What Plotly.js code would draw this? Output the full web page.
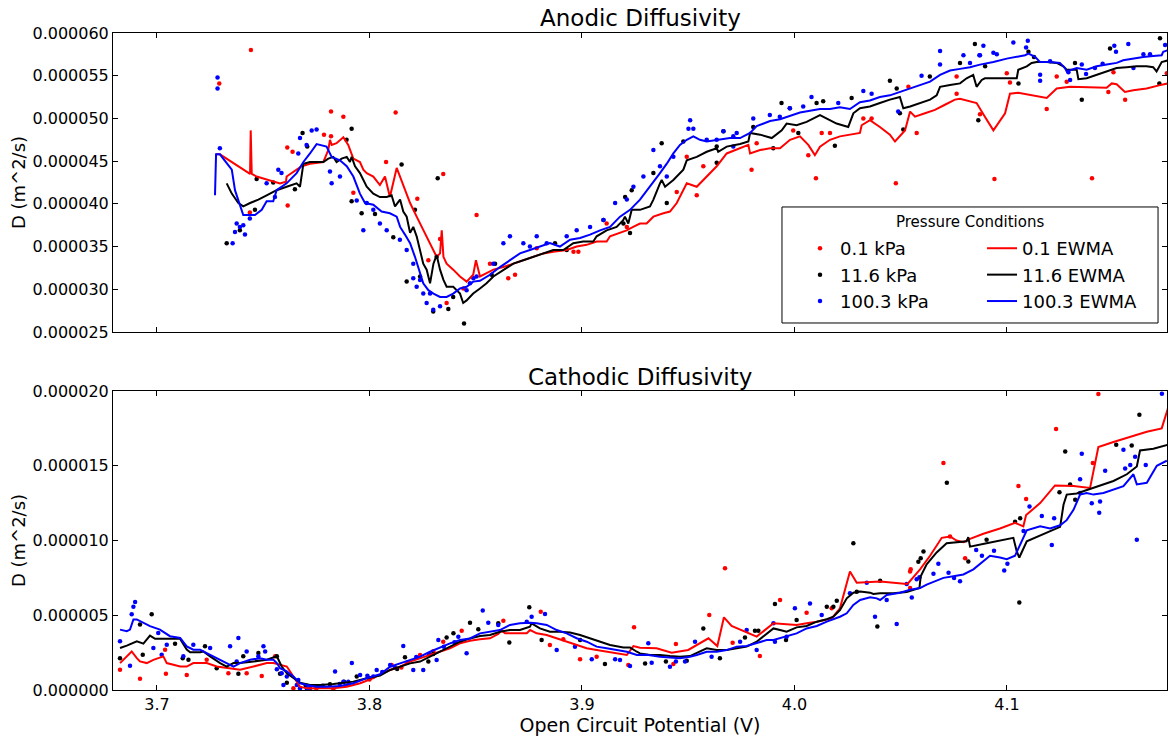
<!DOCTYPE html>
<html><head><meta charset="utf-8">
<script src="https://cdn.plot.ly/plotly-3.0.1.min.js"></script>
<style>html,body{margin:0;padding:0;background:#fff}#chart{width:1168px;height:738px}</style>
</head><body><div id="chart"></div>
<script>
// ---------- Anodic (top) : scatter points [OCV (V), D (m^2/s)] ----------
const anodicP01 = [[3.7442,58.0e-6],[3.7293,54.1e-6],[3.7819,50.8e-6],[3.7877,50.2e-6],[3.8123,50.7e-6],[3.7786,48.1e-6],[3.7819,47.9e-6],[3.7613,46.6e-6],[3.7638,46.1e-6],[3.7615,39.8e-6],[3.7437,39.0e-6],[3.7924,41.3e-6],[3.8078,44.9e-6],[3.8347,43.5e-6],[3.8225,40.6e-6],[3.8504,38.7e-6],[3.8332,35.9e-6],[3.8277,33.4e-6],[3.8363,28.4e-6],[3.8442,30.1e-6],[3.8567,33.0e-6],[3.8653,31.3e-6],[3.8685,31.7e-6],[3.8787,34.8e-6],[3.8960,34.4e-6],[3.8983,34.4e-6],[3.9116,37.7e-6],[3.9211,37.3e-6],[3.9446,41.4e-6],[3.9540,41.0e-6],[3.9571,44.4e-6],[3.9493,45.5e-6],[3.9798,44.0e-6],[3.9822,47.1e-6],[3.9994,48.6e-6],[4.0065,45.7e-6],[4.0101,43.0e-6],[4.0128,48.3e-6],[4.0167,48.3e-6],[4.0324,50.0e-6],[4.0363,50.0e-6],[4.0477,42.4e-6],[4.0536,53.7e-6],[4.0575,48.3e-6],[4.0763,54.9e-6],[4.0763,52.9e-6],[4.0873,50.5e-6],[4.0941,42.9e-6],[4.0999,55.3e-6],[4.1014,54.2e-6],[4.1187,51.1e-6],[4.1234,54.9e-6],[4.1281,54.3e-6],[4.1400,43.0e-6],[4.1477,53.1e-6],[4.1501,55.4e-6],[4.1556,52.2e-6],[4.1752,55.3e-6]];
const anodicP116 = [[3.7916,48.8e-6],[3.7685,48.3e-6],[3.7707,46.7e-6],[3.7892,47.5e-6],[3.8151,44.6e-6],[3.8321,43.0e-6],[3.7469,42.9e-6],[3.7547,42.5e-6],[3.7649,41.7e-6],[3.7461,39.3e-6],[3.7328,35.4e-6],[3.7390,36.9e-6],[3.7916,40.3e-6],[3.7963,38.9e-6],[3.8026,38.8e-6],[3.8112,36.1e-6],[3.8214,39.3e-6],[3.8175,30.9e-6],[3.8238,31.5e-6],[3.8300,27.4e-6],[3.8371,27.7e-6],[3.8445,26.0e-6],[3.8316,33.8e-6],[3.8394,29.1e-6],[3.8575,31.7e-6],[3.8591,33.0e-6],[3.8873,35.4e-6],[3.8928,34.6e-6],[3.9101,38.1e-6],[3.9195,37.7e-6],[3.9203,40.8e-6],[3.9226,36.6e-6],[3.9234,41.6e-6],[3.9336,43.6e-6],[3.9375,47.1e-6],[3.9477,47.3e-6],[3.9399,40.1e-6],[3.9634,44.8e-6],[3.9666,48.5e-6],[3.9634,46.7e-6],[3.9806,49.0e-6],[3.9939,51.8e-6],[3.9978,51.2e-6],[4.0018,48.3e-6],[4.0104,51.8e-6],[4.0135,52.0e-6],[4.0190,46.8e-6],[4.0269,52.4e-6],[4.0449,54.4e-6],[4.0481,53.5e-6],[4.0496,50.6e-6],[4.0512,48.7e-6],[4.0637,54.9e-6],[4.0779,56.5e-6],[4.0849,58.7e-6],[4.0865,49.8e-6],[3.9900,46.5e-6],[4.0897,56.1e-6],[4.1054,54.1e-6],[4.1101,57.8e-6],[4.1127,57.2e-6],[4.1320,56.5e-6],[4.1352,52.2e-6],[4.1485,58.2e-6],[4.1720,59.4e-6],[4.1717,54.1e-6]];
const anodicP1003 = [[3.7285,54.8e-6],[3.7285,53.5e-6],[3.7296,46.5e-6],[3.7375,37.7e-6],[3.7390,37.3e-6],[3.7367,36.7e-6],[3.7414,36.4e-6],[3.7356,35.4e-6],[3.7406,37.5e-6],[3.7437,38.3e-6],[3.7516,42.4e-6],[3.7555,40.8e-6],[3.7571,44.0e-6],[3.7586,43.6e-6],[3.7673,47.7e-6],[3.7728,48.6e-6],[3.7751,48.7e-6],[3.7704,46.9e-6],[3.7665,45.9e-6],[3.7814,43.8e-6],[3.7822,42.4e-6],[3.7861,43.2e-6],[3.7940,40.4e-6],[3.7971,36.9e-6],[3.7987,40.1e-6],[3.8049,37.7e-6],[3.8081,36.9e-6],[3.8143,35.8e-6],[3.8175,34.6e-6],[3.8206,31.3e-6],[3.8238,31.1e-6],[3.8253,29.5e-6],[3.8269,28.4e-6],[3.8300,27.6e-6],[3.8332,28.0e-6],[3.8222,30.3e-6],[3.8285,29.5e-6],[3.8473,30.7e-6],[3.8504,31.5e-6],[3.8206,33.0e-6],[3.8018,39.3e-6],[3.8457,29.9e-6],[3.8489,31.3e-6],[3.8583,33.0e-6],[3.8630,35.4e-6],[3.8661,36.2e-6],[3.8724,35.4e-6],[3.8755,35.0e-6],[3.8787,36.2e-6],[3.8834,35.4e-6],[3.8928,36.2e-6],[3.8975,36.9e-6],[3.9038,37.3e-6],[3.9101,38.1e-6],[3.9156,40.1e-6],[3.9211,40.5e-6],[3.9289,43.2e-6],[3.9336,46.3e-6],[3.9367,44.4e-6],[3.9430,45.5e-6],[3.9509,49.8e-6],[3.9501,48.8e-6],[3.9524,48.8e-6],[3.9587,47.5e-6],[3.9634,47.5e-6],[3.9728,48.3e-6],[3.9242,42.0e-6],[3.9399,43.2e-6],[3.9665,48.5e-6],[3.9712,47.9e-6],[3.9806,50.0e-6],[3.9884,50.4e-6],[3.9931,50.2e-6],[3.9978,51.2e-6],[4.0041,51.4e-6],[4.0080,52.5e-6],[4.0206,51.8e-6],[4.0324,53.2e-6],[4.0363,52.9e-6],[4.0488,50.8e-6],[4.0598,55.0e-6],[4.0685,56.3e-6],[4.0685,57.9e-6],[4.0795,57.4e-6],[4.0826,56.5e-6],[4.0870,57.4e-6],[3.9712,46.7e-6],[4.0873,57.4e-6],[4.0889,58.5e-6],[4.0936,57.7e-6],[4.0952,57.5e-6],[4.1030,58.9e-6],[4.1090,58.3e-6],[4.1098,59.1e-6],[4.1156,55.1e-6],[4.1156,54.4e-6],[4.1203,56.7e-6],[4.1289,55.4e-6],[4.1297,54.5e-6],[4.1352,56.3e-6],[4.1372,55.2e-6],[4.1414,55.9e-6],[4.1450,56.4e-6],[4.1505,58.5e-6],[4.1513,57.8e-6],[4.1571,58.7e-6],[4.1642,57.5e-6],[4.1673,57.5e-6],[4.1744,58.6e-6],[4.1595,55.9e-6]];

// ---------- Anodic (top) : EWMA lines ----------
const anodicE01 = [[3.7278,45.8e-6],[3.7296,45.8e-6],[3.7438,43.5e-6],[3.7441,48.6e-6],[3.7446,43.5e-6],[3.7469,43.2e-6],[3.7579,42.4e-6],[3.7607,42.6e-6],[3.7610,43.2e-6],[3.7657,44.0e-6],[3.7681,44.4e-6],[3.7720,44.7e-6],[3.7783,44.9e-6],[3.7806,46.3e-6],[3.7814,47.5e-6],[3.7822,46.9e-6],[3.7845,47.1e-6],[3.7877,47.8e-6],[3.7900,46.9e-6],[3.7924,45.3e-6],[3.7955,44.9e-6],[3.7971,44.0e-6],[3.7987,43.6e-6],[3.8018,43.2e-6],[3.8049,42.2e-6],[3.8073,43.2e-6],[3.8096,40.8e-6],[3.8128,44.2e-6],[3.8144,43.2e-6],[3.8191,40.1e-6],[3.8222,38.5e-6],[3.8238,37.7e-6],[3.8269,36.2e-6],[3.8285,35.4e-6],[3.8301,34.6e-6],[3.8316,33.8e-6],[3.8332,34.2e-6],[3.8340,36.9e-6],[3.8348,33.8e-6],[3.8363,33.0e-6],[3.8394,32.3e-6],[3.8426,31.5e-6],[3.8457,30.9e-6],[3.8488,31.7e-6],[3.8501,33.4e-6],[3.8512,32.3e-6],[3.8520,31.5e-6],[3.8551,31.9e-6],[3.8583,32.3e-6],[3.8630,32.6e-6],[3.8677,33.0e-6],[3.8724,33.4e-6],[3.8771,33.8e-6],[3.8818,34.2e-6],[3.8865,34.4e-6],[3.8928,34.6e-6],[3.8975,35.0e-6],[3.9022,35.2e-6],[3.9069,35.6e-6],[3.9116,35.6e-6],[3.9132,36.2e-6],[3.9179,36.6e-6],[3.9210,36.9e-6],[3.9241,37.3e-6],[3.9273,37.7e-6],[3.9304,37.7e-6],[3.9336,38.5e-6],[3.9383,38.9e-6],[3.9414,39.1e-6],[3.9446,40.1e-6],[3.9493,42.4e-6],[3.9540,42.0e-6],[3.9587,43.2e-6],[3.9634,44.4e-6],[3.9681,45.9e-6],[3.9744,46.5e-6],[3.9783,46.9e-6],[3.9791,45.9e-6],[3.9838,46.3e-6],[3.9885,46.5e-6],[3.9932,46.5e-6],[3.9979,47.5e-6],[4.0026,47.9e-6],[4.0065,46.9e-6],[4.0096,45.7e-6],[4.0120,46.7e-6],[4.0167,47.5e-6],[4.0214,47.9e-6],[4.0261,48.1e-6],[4.0308,48.3e-6],[4.0316,49.2e-6],[4.0355,49.8e-6],[4.0402,49.0e-6],[4.0449,48.1e-6],[4.0473,47.3e-6],[4.0520,48.6e-6],[4.0544,50.8e-6],[4.0567,50.2e-6],[4.0614,50.6e-6],[4.0661,51.0e-6],[4.0708,51.6e-6],[4.0755,52.2e-6],[4.0779,52.3e-6],[4.0826,52.0e-6],[4.0857,51.8e-6],[4.0896,50.2e-6],[4.0936,48.6e-6],[4.0991,50.6e-6],[4.1014,52.9e-6],[4.1053,53.0e-6],[4.1187,52.4e-6],[4.1234,53.5e-6],[4.1296,53.7e-6],[4.1469,53.6e-6],[4.1493,54.1e-6],[4.1516,54.0e-6],[4.1540,53.5e-6],[4.1555,53.1e-6],[4.1594,53.3e-6],[4.1657,53.5e-6],[4.1720,53.9e-6],[4.1758,54.1e-6]];
const anodicE116 = [[3.7328,42.4e-6],[3.7352,41.2e-6],[3.7383,40.1e-6],[3.7406,39.7e-6],[3.7438,40.1e-6],[3.7477,40.5e-6],[3.7516,41.0e-6],[3.7563,41.6e-6],[3.7610,42.0e-6],[3.7657,42.4e-6],[3.7673,42.0e-6],[3.7681,43.2e-6],[3.7689,44.7e-6],[3.7720,44.9e-6],[3.7783,44.9e-6],[3.7806,45.3e-6],[3.7830,45.5e-6],[3.7845,44.9e-6],[3.7869,45.3e-6],[3.7893,45.5e-6],[3.7908,44.9e-6],[3.7916,45.5e-6],[3.7932,44.4e-6],[3.7955,43.6e-6],[3.7987,42.0e-6],[3.8018,41.2e-6],[3.8049,40.8e-6],[3.8081,40.8e-6],[3.8104,41.0e-6],[3.8120,39.7e-6],[3.8144,40.5e-6],[3.8159,39.1e-6],[3.8175,38.5e-6],[3.8191,36.6e-6],[3.8206,37.3e-6],[3.8222,36.2e-6],[3.8238,34.6e-6],[3.8253,33.0e-6],[3.8269,32.3e-6],[3.8285,30.7e-6],[3.8301,33.0e-6],[3.8316,34.0e-6],[3.8332,32.3e-6],[3.8348,31.1e-6],[3.8363,30.3e-6],[3.8394,30.3e-6],[3.8426,29.5e-6],[3.8441,28.4e-6],[3.8457,28.7e-6],[3.8488,29.5e-6],[3.8520,30.1e-6],[3.8551,30.7e-6],[3.8583,31.5e-6],[3.8630,32.3e-6],[3.8677,33.0e-6],[3.8724,33.4e-6],[3.8771,33.8e-6],[3.8818,34.2e-6],[3.8865,34.6e-6],[3.8912,34.6e-6],[3.8959,35.4e-6],[3.9006,35.6e-6],[3.9053,35.6e-6],[3.9069,36.2e-6],[3.9116,36.9e-6],[3.9163,37.3e-6],[3.9194,38.1e-6],[3.9202,38.5e-6],[3.9218,37.7e-6],[3.9234,39.3e-6],[3.9273,39.3e-6],[3.9320,39.7e-6],[3.9336,40.5e-6],[3.9367,42.4e-6],[3.9375,42.8e-6],[3.9391,42.0e-6],[3.9430,42.8e-6],[3.9477,44.0e-6],[3.9493,45.1e-6],[3.9540,45.5e-6],[3.9587,46.1e-6],[3.9634,46.5e-6],[3.9641,46.1e-6],[3.9681,46.7e-6],[3.9744,47.0e-6],[3.9783,47.3e-6],[3.9791,48.3e-6],[3.9838,48.1e-6],[3.9893,47.7e-6],[3.9940,48.6e-6],[3.9963,49.4e-6],[4.0010,49.2e-6],[4.0057,49.6e-6],[4.0120,50.4e-6],[4.0151,50.0e-6],[4.0198,49.4e-6],[4.0253,49.0e-6],[4.0277,50.6e-6],[4.0308,51.2e-6],[4.0355,51.4e-6],[4.0402,51.8e-6],[4.0449,52.2e-6],[4.0496,52.5e-6],[4.0512,51.2e-6],[4.0544,51.4e-6],[4.0591,51.8e-6],[4.0638,52.2e-6],[4.0669,52.7e-6],[4.0685,53.7e-6],[4.0732,53.9e-6],[4.0779,54.1e-6],[4.0810,54.7e-6],[4.0841,55.1e-6],[4.0857,53.7e-6],[4.0881,54.5e-6],[4.0896,54.7e-6],[4.0936,54.7e-6],[4.1046,54.7e-6],[4.1053,55.7e-6],[4.1093,56.1e-6],[4.1116,56.5e-6],[4.1140,56.6e-6],[4.1187,56.6e-6],[4.1234,56.5e-6],[4.1265,56.1e-6],[4.1281,55.7e-6],[4.1328,55.7e-6],[4.1336,54.6e-6],[4.1375,54.7e-6],[4.1422,55.1e-6],[4.1469,55.5e-6],[4.1516,55.9e-6],[4.1563,56.0e-6],[4.1610,56.1e-6],[4.1657,56.1e-6],[4.1688,56.0e-6],[4.1704,55.5e-6],[4.1728,56.6e-6],[4.1758,56.8e-6]];
const anodicE1003 = [[3.7273,41.0e-6],[3.7278,45.8e-6],[3.7296,45.8e-6],[3.7352,44.0e-6],[3.7367,41.6e-6],[3.7391,39.9e-6],[3.7406,38.7e-6],[3.7461,38.7e-6],[3.7493,39.3e-6],[3.7516,40.3e-6],[3.7547,40.3e-6],[3.7563,41.6e-6],[3.7610,42.4e-6],[3.7657,43.6e-6],[3.7689,44.9e-6],[3.7720,45.9e-6],[3.7751,47.0e-6],[3.7798,46.7e-6],[3.7822,45.5e-6],[3.7861,45.1e-6],[3.7893,44.4e-6],[3.7924,43.2e-6],[3.7955,41.2e-6],[3.7979,40.1e-6],[3.8018,39.9e-6],[3.8057,39.1e-6],[3.8096,38.9e-6],[3.8128,38.5e-6],[3.8144,37.3e-6],[3.8167,36.4e-6],[3.8191,35.4e-6],[3.8214,33.8e-6],[3.8238,31.9e-6],[3.8253,30.7e-6],[3.8277,29.9e-6],[3.8301,29.5e-6],[3.8332,29.1e-6],[3.8363,29.1e-6],[3.8394,29.5e-6],[3.8426,30.1e-6],[3.8457,30.3e-6],[3.8488,30.9e-6],[3.8520,31.0e-6],[3.8567,31.7e-6],[3.8614,32.6e-6],[3.8661,33.4e-6],[3.8708,34.2e-6],[3.8755,34.6e-6],[3.8802,35.0e-6],[3.8849,35.4e-6],[3.8896,35.0e-6],[3.8944,35.8e-6],[3.8991,36.0e-6],[3.9038,36.4e-6],[3.9085,36.9e-6],[3.9132,37.3e-6],[3.9179,38.5e-6],[3.9226,39.3e-6],[3.9273,40.5e-6],[3.9320,42.0e-6],[3.9367,43.6e-6],[3.9399,44.7e-6],[3.9430,45.9e-6],[3.9461,46.9e-6],[3.9493,47.5e-6],[3.9524,47.9e-6],[3.9555,47.5e-6],[3.9587,47.3e-6],[3.9634,47.5e-6],[3.9696,47.7e-6],[3.9744,47.7e-6],[3.9791,48.3e-6],[3.9822,49.1e-6],[3.9885,49.7e-6],[3.9932,49.9e-6],[3.9979,50.3e-6],[4.0026,50.7e-6],[4.0073,50.9e-6],[4.0120,51.1e-6],[4.0167,51.1e-6],[4.0214,51.3e-6],[4.0261,51.1e-6],[4.0308,51.9e-6],[4.0355,52.1e-6],[4.0402,52.5e-6],[4.0449,52.7e-6],[4.0496,53.1e-6],[4.0544,53.5e-6],[4.0591,53.9e-6],[4.0638,54.3e-6],[4.0685,55.1e-6],[4.0732,55.6e-6],[4.0779,55.8e-6],[4.0826,56.0e-6],[4.0873,56.3e-6],[4.0936,56.6e-6],[4.0999,57.0e-6],[4.1046,57.2e-6],[4.1085,57.4e-6],[4.1101,57.6e-6],[4.1132,57.2e-6],[4.1155,56.6e-6],[4.1202,56.6e-6],[4.1249,56.5e-6],[4.1273,55.9e-6],[4.1281,55.5e-6],[4.1328,55.9e-6],[4.1375,55.7e-6],[4.1422,56.1e-6],[4.1469,56.3e-6],[4.1516,56.5e-6],[4.1547,56.8e-6],[4.1594,57.0e-6],[4.1641,57.2e-6],[4.1688,57.3e-6],[4.1728,57.4e-6],[4.1735,57.8e-6],[4.1758,58.0e-6]];

// ---------- Cathodic (bottom) : scatter points ----------
const cathodicP01 = [[3.6826,1.35e-6],[3.6920,0.76e-6],[3.7042,1.08e-6],[3.7038,2.70e-6],[3.7140,1.01e-6],[3.7234,2.02e-6],[3.7336,1.12e-6],[3.7422,1.12e-6],[3.7493,0.94e-6],[3.7556,2.25e-6],[3.7642,0.11e-6],[3.7720,0.04e-6],[3.7750,0.10e-6],[3.7830,0.04e-6],[3.7900,0.35e-6],[3.8000,0.70e-6],[3.8104,1.67e-6],[3.8150,1.50e-6],[3.8238,2.34e-6],[3.8300,2.60e-6],[3.8347,3.23e-6],[3.8434,3.97e-6],[3.8630,4.64e-6],[3.8806,5.24e-6],[3.8849,3.01e-6],[3.8912,3.39e-6],[3.8991,2.05e-6],[3.9069,2.23e-6],[3.9218,1.67e-6],[3.9245,4.19e-6],[3.9673,8.14e-6],[3.9442,3.08e-6],[3.9430,1.74e-6],[3.9599,5.02e-6],[3.9709,3.16e-6],[3.9837,2.27e-6],[3.9932,6.02e-6],[4.0057,5.17e-6],[4.0175,5.46e-6],[4.0544,7.92e-6],[4.1430,19.8e-6],[4.1231,17.45e-6],[4.0701,15.18e-6],[4.1054,13.64e-6],[4.1090,12.77e-6],[4.1404,15.18e-6],[4.0803,8.82e-6],[4.0547,8.07e-6],[4.0544,6.82e-6],[4.0732,10.27e-6]];
const cathodicP116 = [[3.6975,5.06e-6],[3.6920,4.38e-6],[3.6826,2.13e-6],[3.6933,2.36e-6],[3.7085,3.10e-6],[3.7121,2.13e-6],[3.7148,2.02e-6],[3.7226,2.92e-6],[3.7281,1.46e-6],[3.7383,1.08e-6],[3.7406,2.25e-6],[3.7477,2.47e-6],[3.7564,2.25e-6],[3.7579,1.08e-6],[3.7611,0.49e-6],[3.7700,0.30e-6],[3.7760,0.25e-6],[3.7814,0.38e-6],[3.7880,0.55e-6],[3.7940,0.90e-6],[3.8000,0.80e-6],[3.8130,1.40e-6],[3.8167,2.19e-6],[3.8277,1.90e-6],[3.8300,2.40e-6],[3.8363,3.52e-6],[3.8395,3.79e-6],[3.8473,4.50e-6],[3.8512,4.06e-6],[3.8606,4.46e-6],[3.8658,3.17e-6],[3.8752,5.53e-6],[3.8810,3.34e-6],[3.8991,3.34e-6],[3.9108,1.74e-6],[3.9297,1.78e-6],[3.9395,1.90e-6],[3.9493,1.96e-6],[3.9571,4.12e-6],[3.9649,2.12e-6],[3.9767,3.52e-6],[3.9814,3.97e-6],[3.9830,3.97e-6],[3.9908,5.75e-6],[3.9960,3.34e-6],[4.0010,4.68e-6],[4.0152,5.57e-6],[4.0183,5.57e-6],[4.0199,5.97e-6],[4.0277,9.81e-6],[4.0293,6.58e-6],[4.0390,4.24e-6],[4.0403,7.31e-6],[4.0583,8.58e-6],[4.1623,18.41e-6],[4.0717,13.86e-6],[4.1274,15.95e-6],[4.1514,16.41e-6],[4.1587,16.36e-6],[4.0594,8.82e-6],[4.0607,9.27e-6],[4.0818,8.59e-6],[4.0904,10.05e-6],[4.1038,11.25e-6],[4.1062,11.48e-6],[4.1058,5.86e-6],[4.1247,13.23e-6],[4.1297,13.75e-6],[4.1321,12.73e-6]];
const cathodicP1003 = [[3.6897,5.89e-6],[3.6889,5.57e-6],[3.6881,5.06e-6],[3.6826,3.26e-6],[3.6873,1.62e-6],[3.6983,2.81e-6],[3.7022,2.36e-6],[3.7006,3.82e-6],[3.7046,3.03e-6],[3.7124,2.25e-6],[3.7171,3.03e-6],[3.7250,2.81e-6],[3.7344,2.92e-6],[3.7383,3.48e-6],[3.7375,1.91e-6],[3.7422,2.58e-6],[3.7477,2.25e-6],[3.7501,2.92e-6],[3.7509,2.58e-6],[3.7564,1.39e-6],[3.7587,1.12e-6],[3.7595,0.34e-6],[3.7658,0.34e-6],[3.7673,0.11e-6],[3.7705,0.11e-6],[3.7720,0.15e-6],[3.7780,0.28e-6],[3.7838,1.24e-6],[3.7860,0.40e-6],[3.7900,0.55e-6],[3.7917,1.80e-6],[3.7956,1.01e-6],[3.7990,0.95e-6],[3.8018,0.90e-6],[3.7665,0.67e-6],[3.7611,0.90e-6],[3.7752,0.22e-6],[3.7877,0.56e-6],[3.8060,1.20e-6],[3.8120,1.50e-6],[3.8180,1.85e-6],[3.8220,2.20e-6],[3.8280,2.40e-6],[3.8350,2.90e-6],[3.8400,3.20e-6],[3.8159,2.94e-6],[3.8206,1.34e-6],[3.8253,1.34e-6],[3.8324,3.34e-6],[3.8418,3.57e-6],[3.8457,2.45e-6],[3.8533,5.31e-6],[3.8559,4.50e-6],[3.8606,4.35e-6],[3.8740,4.57e-6],[3.8763,4.90e-6],[3.8826,5.08e-6],[3.8881,2.68e-6],[3.8967,2.90e-6],[3.9046,2.05e-6],[3.9156,2.05e-6],[3.9179,2.01e-6],[3.9226,1.60e-6],[3.9312,3.12e-6],[3.8034,1.34e-6],[3.8097,1.67e-6],[3.8316,2.01e-6],[3.9328,1.83e-6],[3.9414,1.56e-6],[3.9442,1.90e-6],[3.9485,1.90e-6],[3.9532,3.23e-6],[3.9610,2.23e-6],[3.9744,3.23e-6],[3.9775,4.01e-6],[3.9822,2.68e-6],[3.9901,4.46e-6],[3.9908,3.23e-6],[3.9963,3.57e-6],[4.0002,5.46e-6],[4.0073,5.79e-6],[4.0128,5.02e-6],[4.0261,6.47e-6],[4.0340,7.18e-6],[4.0379,4.90e-6],[4.0434,6.02e-6],[4.0481,4.41e-6],[4.0575,7.40e-6],[4.1729,19.82e-6],[4.1352,15.80e-6],[4.1548,16.07e-6],[4.1603,15.61e-6],[4.1462,14.66e-6],[4.1653,15.05e-6],[4.1344,14.09e-6],[4.1399,12.50e-6],[4.1438,12.61e-6],[4.1434,11.86e-6],[4.1611,10.05e-6],[4.1106,12.27e-6],[4.1164,11.64e-6],[4.1222,11.48e-6],[4.1211,9.70e-6],[4.1078,10.64e-6],[4.0654,7.77e-6],[4.0677,8.45e-6],[4.0725,7.84e-6],[4.0751,7.50e-6],[4.0779,7.27e-6],[4.0855,9.36e-6],[4.0882,8.98e-6],[4.0939,9.32e-6],[4.0987,8.00e-6],[4.1002,8.45e-6],[4.0552,6.18e-6],[4.0588,7.55e-6],[4.0528,7.09e-6],[4.1556,14.82e-6],[4.1580,15.05e-6],[4.1344,13.18e-6]];

// ---------- Cathodic (bottom) : EWMA lines ----------
const cathodicE01 = [[3.6826,1.80e-6],[3.6850,2.13e-6],[3.6881,2.58e-6],[3.6905,2.13e-6],[3.6920,1.91e-6],[3.6952,1.80e-6],[3.6983,2.02e-6],[3.7030,2.25e-6],[3.7046,1.80e-6],[3.7109,1.57e-6],[3.7140,1.57e-6],[3.7171,1.80e-6],[3.7234,1.80e-6],[3.7281,1.57e-6],[3.7328,1.46e-6],[3.7391,1.35e-6],[3.7454,1.57e-6],[3.7517,1.80e-6],[3.7548,1.80e-6],[3.7611,1.57e-6],[3.7642,0.90e-6],[3.7673,0.22e-6],[3.7705,0.11e-6],[3.7752,0.11e-6],[3.7830,0.11e-6],[3.7893,0.22e-6],[3.7956,0.45e-6],[3.8018,0.79e-6],[3.8050,1.05e-6],[3.8097,1.34e-6],[3.8144,1.56e-6],[3.8191,1.90e-6],[3.8238,2.12e-6],[3.8285,2.34e-6],[3.8332,2.56e-6],[3.8379,2.79e-6],[3.8426,3.12e-6],[3.8473,3.30e-6],[3.8520,3.39e-6],[3.8567,3.46e-6],[3.8606,3.75e-6],[3.8622,3.97e-6],[3.8638,3.79e-6],[3.8693,3.79e-6],[3.8740,3.79e-6],[3.8756,4.01e-6],[3.8787,3.79e-6],[3.8834,3.68e-6],[3.8881,3.46e-6],[3.8928,3.23e-6],[3.8975,3.01e-6],[3.9022,2.79e-6],[3.9069,2.68e-6],[3.9116,2.56e-6],[3.9163,2.45e-6],[3.9211,2.34e-6],[3.9242,2.94e-6],[3.9273,2.82e-6],[3.9351,2.79e-6],[3.9422,2.50e-6],[3.9500,2.68e-6],[3.9595,3.46e-6],[3.9637,2.94e-6],[3.9668,4.86e-6],[3.9704,4.28e-6],[3.9822,3.57e-6],[3.9901,4.46e-6],[3.9963,4.41e-6],[4.0010,4.35e-6],[4.0057,4.46e-6],[4.0105,4.57e-6],[4.0175,4.79e-6],[4.0214,5.46e-6],[4.0261,7.92e-6],[4.0293,7.18e-6],[4.0403,7.25e-6],[4.0528,7.09e-6],[4.0536,7.16e-6],[4.0591,8.07e-6],[4.0638,8.98e-6],[4.0693,10.18e-6],[4.0732,10.27e-6],[4.0763,10.00e-6],[4.0795,9.89e-6],[4.0826,10.11e-6],[4.0889,10.45e-6],[4.0967,10.80e-6],[4.1038,11.18e-6],[4.1077,10.95e-6],[4.1090,11.70e-6],[4.1156,12.50e-6],[4.1226,13.68e-6],[4.1313,13.64e-6],[4.1391,13.52e-6],[4.1430,16.25e-6],[4.1501,16.59e-6],[4.1579,16.93e-6],[4.1658,17.27e-6],[4.1728,17.50e-6],[4.1758,18.86e-6]];
const cathodicE116 = [[3.6826,2.81e-6],[3.6858,2.97e-6],[3.6905,3.26e-6],[3.6936,3.10e-6],[3.6967,3.64e-6],[3.6991,3.42e-6],[3.7046,3.42e-6],[3.7109,3.42e-6],[3.7140,2.70e-6],[3.7156,2.52e-6],[3.7203,2.52e-6],[3.7218,2.58e-6],[3.7250,2.25e-6],[3.7297,1.80e-6],[3.7328,1.57e-6],[3.7360,1.80e-6],[3.7391,1.80e-6],[3.7454,1.91e-6],[3.7517,2.02e-6],[3.7564,2.25e-6],[3.7587,1.57e-6],[3.7611,1.12e-6],[3.7642,0.79e-6],[3.7673,0.49e-6],[3.7720,0.34e-6],[3.7767,0.34e-6],[3.7830,0.40e-6],[3.7862,0.45e-6],[3.7924,0.56e-6],[3.7987,0.79e-6],[3.8050,0.97e-6],[3.8097,1.34e-6],[3.8144,1.56e-6],[3.8191,1.78e-6],[3.8238,1.90e-6],[3.8285,2.23e-6],[3.8332,2.56e-6],[3.8379,2.90e-6],[3.8426,3.23e-6],[3.8473,3.45e-6],[3.8520,3.61e-6],[3.8567,3.68e-6],[3.8614,3.90e-6],[3.8661,4.01e-6],[3.8708,4.01e-6],[3.8755,4.24e-6],[3.8763,4.46e-6],[3.8802,4.12e-6],[3.8849,3.90e-6],[3.8896,3.90e-6],[3.8944,3.84e-6],[3.8991,3.68e-6],[3.9038,3.46e-6],[3.9085,3.23e-6],[3.9132,3.01e-6],[3.9195,2.85e-6],[3.9226,2.85e-6],[3.9258,2.56e-6],[3.9273,2.45e-6],[3.9320,2.34e-6],[3.9367,2.34e-6],[3.9414,2.27e-6],[3.9461,2.23e-6],[3.9508,2.27e-6],[3.9540,2.50e-6],[3.9587,2.79e-6],[3.9634,2.68e-6],[3.9681,2.68e-6],[3.9728,2.79e-6],[3.9775,2.90e-6],[3.9822,3.23e-6],[3.9869,3.79e-6],[3.9901,4.12e-6],[3.9932,4.01e-6],[3.9963,3.90e-6],[4.0010,4.19e-6],[4.0057,4.28e-6],[4.0105,4.57e-6],[4.0152,4.73e-6],[4.0183,4.90e-6],[4.0214,5.35e-6],[4.0246,6.13e-6],[4.0277,6.51e-6],[4.0309,6.58e-6],[4.0356,6.51e-6],[4.0371,6.42e-6],[4.0403,6.47e-6],[4.0465,6.47e-6],[4.0528,6.55e-6],[4.0588,6.82e-6],[4.0594,7.61e-6],[4.0622,8.41e-6],[4.0669,9.20e-6],[4.0716,9.82e-6],[4.0763,9.89e-6],[4.0810,9.95e-6],[4.0818,10.23e-6],[4.0826,9.59e-6],[4.0904,9.82e-6],[4.0967,10.00e-6],[4.1030,10.18e-6],[4.1046,9.27e-6],[4.1058,8.86e-6],[4.1093,9.95e-6],[4.1156,10.34e-6],[4.1218,10.68e-6],[4.1250,10.91e-6],[4.1266,12.39e-6],[4.1281,13.07e-6],[4.1328,13.14e-6],[4.1375,13.36e-6],[4.1438,13.64e-6],[4.1501,13.98e-6],[4.1564,14.43e-6],[4.1611,14.95e-6],[4.1626,16.02e-6],[4.1689,16.14e-6],[4.1758,16.41e-6]];
const cathodicE1003 = [[3.6826,4.04e-6],[3.6858,3.93e-6],[3.6873,4.04e-6],[3.6889,4.72e-6],[3.6905,4.72e-6],[3.6936,4.49e-6],[3.6967,4.27e-6],[3.7014,4.04e-6],[3.7061,3.60e-6],[3.7109,3.48e-6],[3.7140,2.92e-6],[3.7171,2.70e-6],[3.7203,2.70e-6],[3.7234,2.47e-6],[3.7281,2.13e-6],[3.7328,1.80e-6],[3.7360,1.57e-6],[3.7391,1.80e-6],[3.7438,2.02e-6],[3.7485,2.13e-6],[3.7517,2.02e-6],[3.7548,2.02e-6],[3.7564,1.80e-6],[3.7579,1.46e-6],[3.7611,1.24e-6],[3.7642,0.90e-6],[3.7673,0.45e-6],[3.7705,0.34e-6],[3.7752,0.22e-6],[3.7799,0.22e-6],[3.7830,0.22e-6],[3.7862,0.27e-6],[3.7924,0.45e-6],[3.7987,0.79e-6],[3.8050,1.05e-6],[3.8097,1.56e-6],[3.8144,1.78e-6],[3.8191,2.01e-6],[3.8238,2.23e-6],[3.8285,2.56e-6],[3.8332,2.85e-6],[3.8379,3.12e-6],[3.8426,3.34e-6],[3.8473,3.45e-6],[3.8520,3.79e-6],[3.8567,3.90e-6],[3.8614,4.01e-6],[3.8661,4.35e-6],[3.8708,4.46e-6],[3.8756,4.50e-6],[3.8787,4.46e-6],[3.8834,4.35e-6],[3.8881,4.01e-6],[3.8928,3.79e-6],[3.8975,3.46e-6],[3.9022,3.23e-6],[3.9069,2.90e-6],[3.9116,2.79e-6],[3.9163,2.68e-6],[3.9211,2.56e-6],[3.9258,2.34e-6],[3.9305,2.36e-6],[3.9367,2.23e-6],[3.9414,2.18e-6],[3.9461,2.12e-6],[3.9508,2.23e-6],[3.9540,2.34e-6],[3.9587,2.56e-6],[3.9634,2.56e-6],[3.9681,2.67e-6],[3.9728,2.90e-6],[3.9775,2.94e-6],[3.9822,3.12e-6],[3.9869,3.34e-6],[3.9901,3.34e-6],[3.9932,3.46e-6],[3.9963,3.57e-6],[4.0010,3.79e-6],[4.0057,4.12e-6],[4.0105,4.28e-6],[4.0152,4.57e-6],[4.0183,4.73e-6],[4.0214,4.90e-6],[4.0246,5.13e-6],[4.0277,5.69e-6],[4.0309,6.02e-6],[4.0356,6.20e-6],[4.0387,6.13e-6],[4.0403,6.02e-6],[4.0434,6.35e-6],[4.0497,6.50e-6],[4.0544,6.70e-6],[4.0591,6.82e-6],[4.0622,7.05e-6],[4.0654,7.23e-6],[4.0701,7.50e-6],[4.0748,7.61e-6],[4.0795,7.73e-6],[4.0842,8.07e-6],[4.0873,8.41e-6],[4.0920,8.98e-6],[4.0967,8.86e-6],[4.0999,8.75e-6],[4.1038,8.98e-6],[4.1062,9.77e-6],[4.1093,10.68e-6],[4.1156,10.95e-6],[4.1203,10.80e-6],[4.1250,11.02e-6],[4.1281,11.36e-6],[4.1313,12.05e-6],[4.1344,13.07e-6],[4.1375,13.18e-6],[4.1407,13.07e-6],[4.1454,13.18e-6],[4.1501,13.41e-6],[4.1548,13.64e-6],[4.1595,14.43e-6],[4.1611,13.75e-6],[4.1658,13.86e-6],[4.1705,15.00e-6],[4.1752,15.34e-6]];

// ---------- labels ----------
const seriesNames = ['0.1 kPa', '11.6 kPa', '100.3 kPa'];
const ewmaNames = ['0.1 EWMA', '11.6 EWMA', '100.3 EWMA'];
const seriesColors = ['#ff0000', '#000000', '#0000ff'];
const xTickVals = [3.7, 3.8, 3.9, 4.0, 4.1];
const xTickText = ['3.7', '3.8', '3.9', '4.0', '4.1'];
const anodicYTicks = [25e-6, 30e-6, 35e-6, 40e-6, 45e-6, 50e-6, 55e-6, 60e-6];
const anodicYText = ['0.000025','0.000030','0.000035','0.000040','0.000045','0.000050','0.000055','0.000060'];
const cathodicYTicks = [0, 5e-6, 10e-6, 15e-6, 20e-6];
const cathodicYText = ['0.000000','0.000005','0.000010','0.000015','0.000020'];

const px = a => a.map(p => p[0]);
const py = a => a.map(p => p[1]);

const FONT = 'DejaVu Sans, Liberation Sans, sans-serif';
const traces = [];
const anodicPts = [anodicP01, anodicP116, anodicP1003];
const anodicLines = [anodicE01, anodicE116, anodicE1003];
const cathodicPts = [cathodicP01, cathodicP116, cathodicP1003];
const cathodicLines = [cathodicE01, cathodicE116, cathodicE1003];

for (let i = 0; i < 3; i++) {
  traces.push({type:'scatter', mode:'markers', x:px(anodicPts[i]), y:py(anodicPts[i]), xaxis:'x', yaxis:'y',
    name:seriesNames[i], legend:'legend', legendrank:i+1, marker:{size:4.5, color:seriesColors[i]}, hoverinfo:'skip'});
}
for (let i = 0; i < 3; i++) {
  traces.push({type:'scatter', mode:'lines', x:px(anodicLines[i]), y:py(anodicLines[i]), xaxis:'x', yaxis:'y',
    name:ewmaNames[i], legend:'legend2', legendrank:i+1, line:{width:2, color:seriesColors[i]}, hoverinfo:'skip'});
}
for (let i = 0; i < 3; i++) {
  traces.push({type:'scatter', mode:'markers', x:px(cathodicPts[i]), y:py(cathodicPts[i]), xaxis:'x2', yaxis:'y2',
    showlegend:false, marker:{size:4.5, color:seriesColors[i]}, hoverinfo:'skip'});
}
for (let i = 0; i < 3; i++) {
  traces.push({type:'scatter', mode:'lines', x:px(cathodicLines[i]), y:py(cathodicLines[i]), xaxis:'x2', yaxis:'y2',
    showlegend:false, line:{width:2, color:seriesColors[i]}, hoverinfo:'skip'});
}

const axisCommon = {
  showline:true, linecolor:'#000', linewidth:1, mirror:'ticks', ticks:'inside', ticklen:5, tickwidth:1, tickcolor:'#000',
  showgrid:false, zeroline:false, tickfont:{family:FONT, size:16, color:'#000'}, automargin:false
};
const xRange = [3.6793, 4.1753];

const layout = {
  width:1168, height:738,
  paper_bgcolor:'#fff', plot_bgcolor:'#fff',
  margin:{l:113, r:1, t:33, b:48},
  showlegend:true,
  font:{family:FONT, color:'#000'},
  xaxis:Object.assign({}, axisCommon, {domain:[0,1], anchor:'y', range:xRange, tickvals:xTickVals, ticktext:xTickText, showticklabels:false}),
  yaxis:Object.assign({}, axisCommon, {domain:[0.5449,1], anchor:'x', range:[25e-6,60e-6], tickvals:anodicYTicks, ticktext:anodicYText,
    title:{text:'D (m^2/s)', font:{family:FONT, size:18, color:'#000'}, standoff:2}}),
  xaxis2:Object.assign({}, axisCommon, {domain:[0,1], anchor:'y2', range:xRange, tickvals:xTickVals, ticktext:xTickText,
    title:{text:'Open Circuit Potential (V)', font:{family:FONT, size:19, color:'#000'}, standoff:3}}),
  yaxis2:Object.assign({}, axisCommon, {domain:[0,0.4551], anchor:'x2', range:[0,20e-6], tickvals:cathodicYTicks, ticktext:cathodicYText,
    title:{text:'D (m^2/s)', font:{family:FONT, size:18, color:'#000'}, standoff:2}}),
  legend:{x:0.6518, y:0.7001, xanchor:'left', yanchor:'top', orientation:'v', bgcolor:'rgba(0,0,0,0)', borderwidth:0,
    font:{family:FONT, size:18, color:'#000'}, itemwidth:30, tracegroupgap:0},
  legend2:{x:0.8245, y:0.7001, xanchor:'left', yanchor:'top', orientation:'v', bgcolor:'rgba(0,0,0,0)', borderwidth:0,
    font:{family:FONT, size:18, color:'#000'}, itemwidth:30, tracegroupgap:0},
  shapes:[{type:'rect', xref:'paper', yref:'paper', x0:0.6347, x1:0.9915, y0:0.5586, y1:0.7352, layer:'above',
    line:{color:'#000', width:1}, fillcolor:'#fff'}],
  annotations:[
    {text:'Anodic Diffusivity', xref:'paper', yref:'paper', x:0.5, y:1, xanchor:'center', yanchor:'bottom', yshift:0, showarrow:false,
      font:{family:FONT, size:23, color:'#000'}},
    {text:'Cathodic Diffusivity', xref:'paper', yref:'paper', x:0.5, y:0.4551, xanchor:'center', yanchor:'bottom', yshift:-1, showarrow:false,
      font:{family:FONT, size:23, color:'#000'}},
    {text:'Pressure Conditions', xref:'paper', yref:'paper', x:0.8131, y:0.7123, xanchor:'center', yanchor:'middle', showarrow:false,
      font:{family:FONT, size:15, color:'#000'}}
  ],
  hovermode:false
};

Plotly.newPlot('chart', traces, layout, {staticPlot:true, displayModeBar:false});
</script>
</body></html>
